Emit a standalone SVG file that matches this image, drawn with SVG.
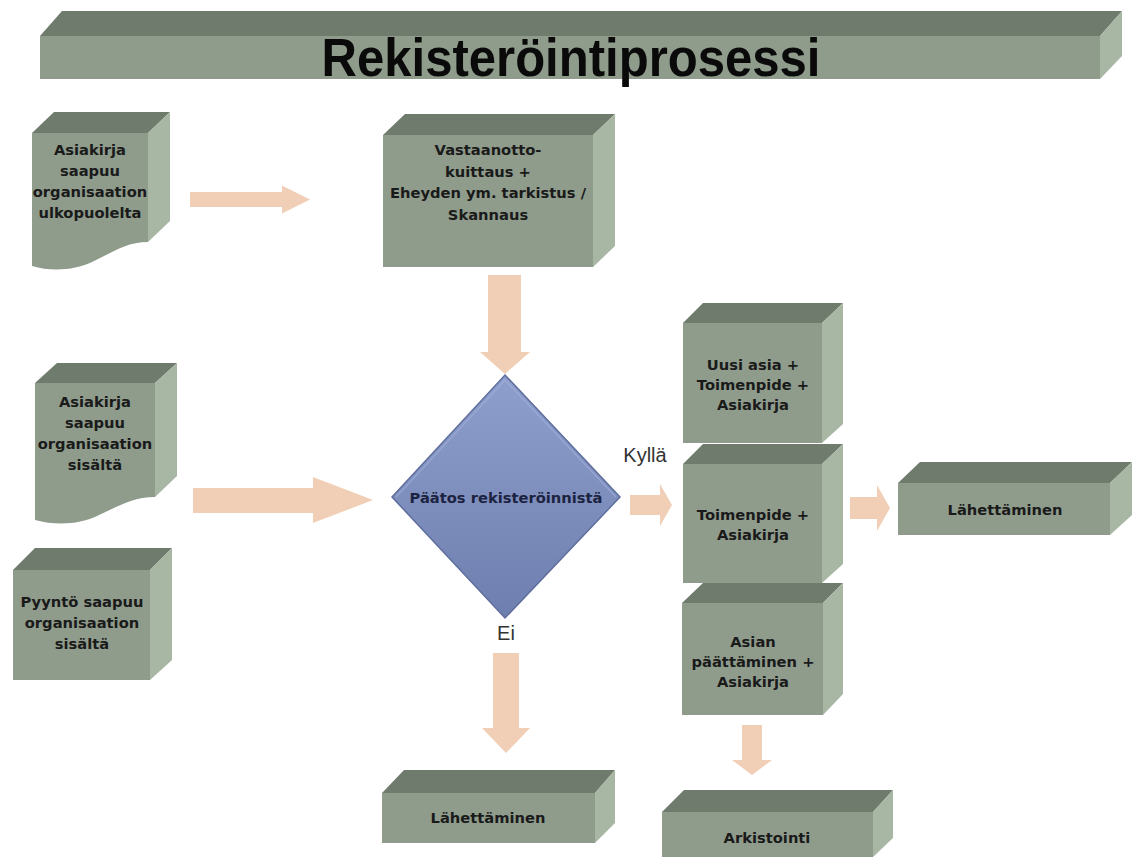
<svg xmlns="http://www.w3.org/2000/svg" width="1133" height="859" viewBox="0 0 1133 859">
<defs>
<style>
.front{fill:#8f9c8c}
.top{fill:#6f7b6c}
.side{fill:#a8b6a4}
.lbl{font-family:"DejaVu Sans",Verdana,sans-serif;font-weight:bold;font-size:14.7px;fill:#1a1a1a;text-anchor:middle}
.arrow{fill:#f0cfb6}
.cap{font-family:"Liberation Sans",Arial,sans-serif;font-size:20px;fill:#333333;text-anchor:middle}
</style>
<linearGradient id="dia" x1="0" y1="0" x2="0" y2="1">
<stop offset="0" stop-color="#8e9fcd"/>
<stop offset="1" stop-color="#6e7eae"/>
</linearGradient>
</defs>
<rect width="1133" height="859" fill="#ffffff"/>

<g id="title">
<polygon class="top" points="40,36 62,11 1122,11 1100,36"/>
<polygon class="side" points="1100,36 1122,11 1122,56 1100,79"/>
<rect class="front" x="40" y="36" width="1060" height="43"/>
<text x="571" y="76" font-family="Liberation Sans, Arial, sans-serif" font-weight="bold" font-size="53" fill="#0a0a0a" text-anchor="middle" textLength="499" lengthAdjust="spacingAndGlyphs">Rekisteröintiprosessi</text>
</g>

<g id="connectors">
<polygon class="arrow" points="190,192 282,192 282,185.5 310,199.5 282,213.5 282,207 190,207"/>
<polygon class="arrow" points="193,488 313,488 313,477 373,500 313,523 313,513 193,513"/>
<polygon class="arrow" points="488,275 521,275 521,352 530,352 505,374 480,352 488,352"/>
<polygon class="arrow" points="630,495 660,495 660,484 672,505 660,526 660,515 630,515"/>
<polygon class="arrow" points="850,497 877,497 877,485 890,508 877,531 877,519 850,519"/>
<polygon class="arrow" points="493,653 519,653 519,728 530,728 506,753 482,728 493,728"/>
<polygon class="arrow" points="742,725 762,725 762,760 772,760 752,775 732,760 742,760"/>
</g>

<g id="doc-ulko">
<polygon class="top" points="32,133 54,112 170,112 148,133"/>
<polygon class="side" points="148,133 170,112 170,221 148,242"/>
<path class="front" d="M32,133 H148 V242 C125,242 110,254 92,262 C75,270 52,272 32,266 Z"/>
<text class="lbl"><tspan x="90" y="155">Asiakirja</tspan><tspan x="90" y="176">saapuu</tspan><tspan x="90" y="197">organisaation</tspan><tspan x="90" y="218">ulkopuolelta</tspan></text>
</g>

<g id="vastaanotto">
<polygon class="top" points="383,135 405,114 615,114 593,135"/>
<polygon class="side" points="593,135 615,114 615,246 593,267"/>
<rect class="front" x="383" y="135" width="210" height="132"/>
<text class="lbl"><tspan x="488" y="155">Vastaanotto-</tspan><tspan x="488" y="177">kuittaus +</tspan><tspan x="488" y="198">Eheyden ym. tarkistus /</tspan><tspan x="488" y="220">Skannaus</tspan></text>
</g>

<g id="doc-sisalta">
<polygon class="top" points="35,383 57,363 177,363 155,383"/>
<polygon class="side" points="155,383 177,363 177,476 155,497"/>
<path class="front" d="M35,383 H155 V497 C132,497 115,508 97,516 C80,524 57,526 35,520 Z"/>
<text class="lbl"><tspan x="95" y="407">Asiakirja</tspan><tspan x="95" y="428">saapuu</tspan><tspan x="95" y="449">organisaation</tspan><tspan x="95" y="470">sisältä</tspan></text>
</g>

<g id="pyynto">
<polygon class="top" points="13,570 35,548 172,548 150,570"/>
<polygon class="side" points="150,570 172,548 172,660 150,680"/>
<rect class="front" x="13" y="570" width="137" height="110"/>
<text class="lbl"><tspan x="82" y="607">Pyyntö saapuu</tspan><tspan x="82" y="628">organisaation</tspan><tspan x="82" y="649">sisältä</tspan></text>
</g>

<g id="paatos">
<polygon points="505,375 620,497 505,618 392,497" fill="url(#dia)" stroke="#5f6e9c" stroke-width="1.5"/>
<polyline points="396,497 505,380 616,497" fill="none" stroke="#a4b2da" stroke-width="1.5" opacity="0.6"/>
<text class="lbl" x="506" y="503" style="fill:#1c2340">Päätos rekisteröinnistä</text>
<text class="cap" x="645" y="462">Kyllä</text>
<text class="cap" x="506" y="640">Ei</text>
</g>

<g id="uusi-asia">
<polygon class="top" points="683,323 703,303 843,303 822,323"/>
<polygon class="side" points="822,323 843,303 843,424 822,443"/>
<rect class="front" x="683" y="323" width="139" height="120"/>
<text class="lbl"><tspan x="753" y="370">Uusi asia +</tspan><tspan x="753" y="390">Toimenpide +</tspan><tspan x="753" y="410">Asiakirja</tspan></text>
</g>

<g id="toimenpide">
<polygon class="top" points="683,464 703,444 843,444 822,464"/>
<polygon class="side" points="822,464 843,444 843,564 822,583"/>
<rect class="front" x="683" y="464" width="139" height="119"/>
<text class="lbl"><tspan x="753" y="520">Toimenpide +</tspan><tspan x="753" y="540">Asiakirja</tspan></text>
</g>

<g id="asian-paattaminen">
<polygon class="top" points="682,603 703,583 843,583 823,603"/>
<polygon class="side" points="823,603 843,583 843,694 823,715"/>
<rect class="front" x="682" y="603" width="141" height="112"/>
<text class="lbl"><tspan x="753" y="647">Asian</tspan><tspan x="753" y="667">päättäminen +</tspan><tspan x="753" y="687">Asiakirja</tspan></text>
</g>

<g id="lahettaminen-oikea">
<polygon class="top" points="898,483 920,462 1132,462 1110,483"/>
<polygon class="side" points="1110,483 1132,462 1132,515 1110,535"/>
<rect class="front" x="898" y="483" width="212" height="52"/>
<text class="lbl" x="1005" y="515">Lähettäminen</text>
</g>

<g id="lahettaminen-ala">
<polygon class="top" points="382,793 404,770 615,770 595,793"/>
<polygon class="side" points="595,793 615,770 615,823 595,843"/>
<rect class="front" x="382" y="793" width="213" height="50"/>
<text class="lbl" x="488" y="823">Lähettäminen</text>
</g>

<g id="arkistointi">
<polygon class="top" points="662,812 684,790 893,790 873,812"/>
<polygon class="side" points="873,812 893,790 893,838 873,857"/>
<rect class="front" x="662" y="812" width="211" height="45"/>
<text class="lbl" x="767" y="843">Arkistointi</text>
</g>
</svg>
